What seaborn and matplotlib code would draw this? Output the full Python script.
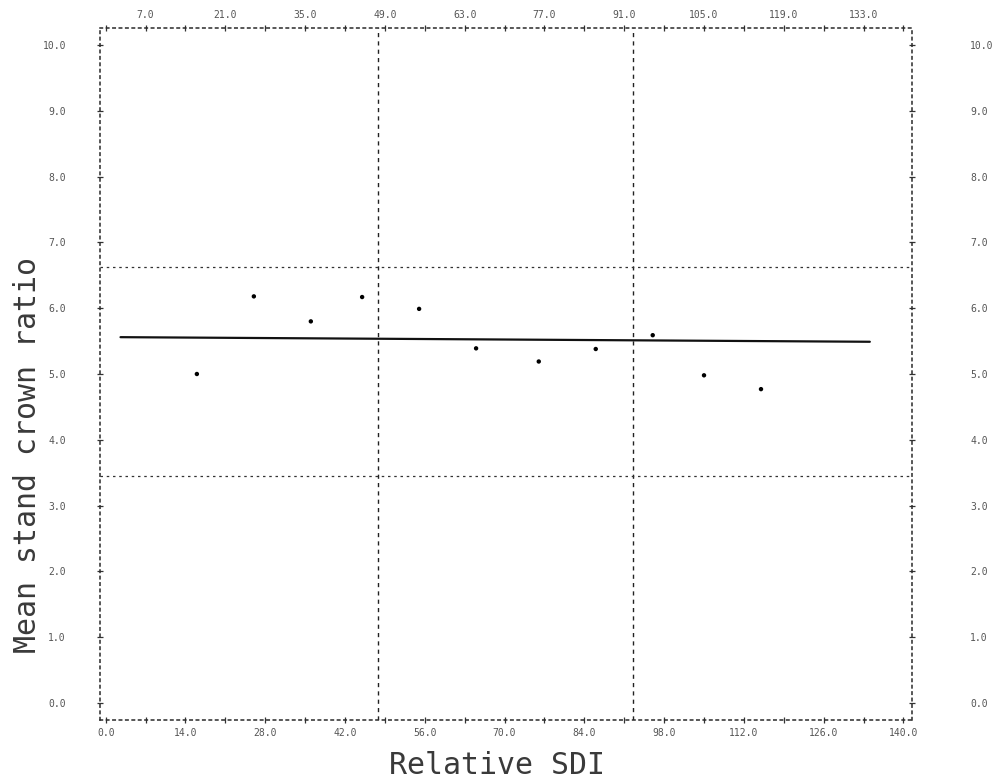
import matplotlib
matplotlib.use("Agg")
import matplotlib.pyplot as plt
import seaborn as sns
import numpy as np
import pandas as pd

# ---- data ----
sdi = [16, 26, 36, 45, 55, 65, 76, 86, 96, 105, 115]
crown = [5.00, 6.18, 5.80, 6.17, 5.99, 5.39, 5.19, 5.38, 5.59, 4.98, 4.77]
line_x = [2.6, 134.1]
line_y = [5.56, 5.49]
vlines_x = [47.8, 92.6]
hlines_y = [3.45, 6.62]
bottom_ticks = [0, 14, 28, 42, 56, 70, 84, 98, 112, 126, 140]
top_ticks = [7, 21, 35, 49, 63, 77, 91, 105, 119, 133]
y_ticks = [0, 1, 2, 3, 4, 5, 6, 7, 8, 9, 10]

sns.set_style("white")
plt.rcParams["font.family"] = ["DejaVu Sans Mono", "DejaVu Sans"]

fig = plt.figure(figsize=(10.05, 7.82), dpi=100)
L, R, T, B = 100, 912, 28, 720
W, H = 1005, 782
ax = fig.add_axes([L / W, 1 - B / H, (R - L) / W, (B - T) / H])

df = pd.DataFrame({"sdi": sdi, "crown": crown})
ldf = pd.DataFrame({"x": line_x, "y": line_y})

sns.lineplot(data=ldf, x="x", y="y", ax=ax, color="#111111", linewidth=1.6)
sns.scatterplot(data=df, x="sdi", y="crown", ax=ax, color="black", s=10,
                edgecolor="none", zorder=5)

for v in vlines_x:
    ax.axvline(v, color="#222222", linestyle=(0, (3, 3)), linewidth=1.0)
for h in hlines_y:
    ax.axhline(h, color="#333333", linestyle=(0, (2, 3)), linewidth=0.9)

ax.set_xlim(-1.0, 141.5)
ax.set_ylim(-0.26, 10.26)

for s in ax.spines.values():
    s.set_linestyle((0, (1.6, 2.6)))
    s.set_linewidth(1.1)
    s.set_color("#2a2a2a")
    s.set_visible(True)

lab_kw = dict(fontsize=7, color="#555555")
ax.set_xticks(bottom_ticks)
ax.set_xticklabels([f"{t:.1f}" for t in bottom_ticks], **lab_kw)
ax.set_xticks(top_ticks, minor=True)
ax.set_yticks(y_ticks)
ax.set_yticklabels([f"{t:.1f}" for t in y_ticks], **lab_kw)
ax.tick_params(axis="both", which="both", direction="inout", length=5,
               width=0.9, color="#333333", top=True, right=True,
               bottom=True, left=True)
ax.tick_params(axis="x", which="major", pad=3)
ax.tick_params(axis="y", which="major", pad=22)
ax.set_xlabel("")
ax.set_ylabel("")

top = ax.secondary_xaxis("top")
top.set_xticks(top_ticks)
top.set_xticklabels([f"{t:.1f}" for t in top_ticks], **lab_kw)
top.tick_params(length=0, pad=6)
for s in top.spines.values():
    s.set_visible(False)

right = ax.secondary_yaxis("right")
right.set_yticks(y_ticks)
right.set_yticklabels([f"{t:.1f}" for t in y_ticks], **lab_kw)
right.tick_params(length=0, pad=42)
for s in right.spines.values():
    s.set_visible(False)

fig.text(28 / W, 1 - 455 / H, "Mean stand crown ratio", rotation=90,
         ha="center", va="center", fontsize=21.5, color="#3a3a3a")
fig.text(497 / W, 1 - 765 / H, "Relative SDI", ha="center", va="center",
         fontsize=21.5, color="#3a3a3a")

fig.savefig("out.png", dpi=100)
